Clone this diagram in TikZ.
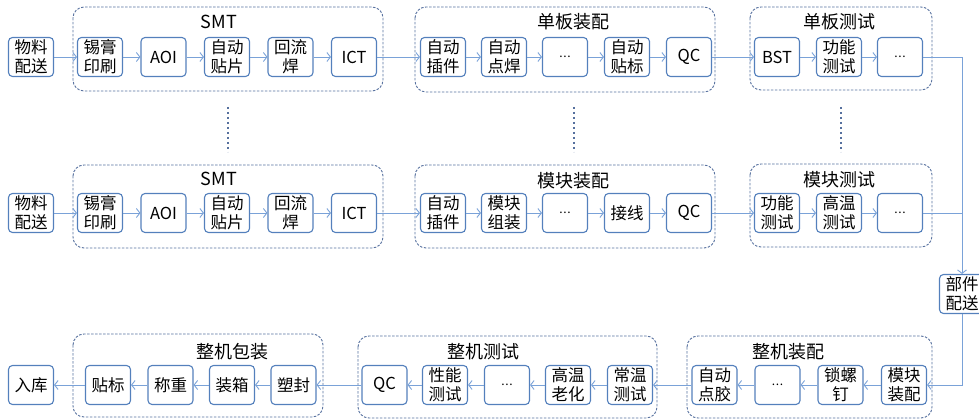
\documentclass[tikz,border=0pt]{standalone}
\usepackage{fontspec}
\setmainfont{Noto Sans CJK SC}
\usetikzlibrary{positioning,arrows.meta}
\definecolor{boxblue}{RGB}{84,128,188}
\definecolor{grpblue}{RGB}{86,112,158}
\definecolor{arrblue}{RGB}{122,162,216}
\newcommand{\omitdots}{{\fontsize{12}{12}\selectfont .\kern0.6pt.\kern0.6pt.}}

\begin{document}
\begin{tikzpicture}[x=1pt,y=-1pt]
  \tikzstyle{box} = [draw=boxblue,line width=1.1pt,rounded corners=4pt,minimum width=45pt,minimum height=39pt,inner sep=0pt,align=center,font=\fontsize{16.5}{19}\selectfont]
  \tikzstyle{grp} = [draw=grpblue,line width=0.9pt,dash pattern=on 2.5pt off 1.5pt,rounded corners=11pt]
  \tikzstyle{title} = [font=\fontsize{18}{19}\selectfont]
  \tikzstyle{flow} = [draw=arrblue,line width=0.9pt,-{Straight Barb[length=3.5pt,width=9pt]}]
  \tikzstyle{dots} = [draw=grpblue,line width=2pt,dash pattern=on 2pt off 3pt]
  \useasboundingbox (0,0) rectangle (979,419);

  % group frames
  \draw[grp] (73,7) rectangle (383,91);
  \draw[grp] (415,7) rectangle (715,92);
  \draw[grp] (750,7) rectangle (932,90);
  \draw[grp] (73,165) rectangle (383,248);
  \draw[grp] (415,165) rectangle (715,248);
  \draw[grp] (750,164) rectangle (932,247);
  \draw[grp] (73,334) rectangle (323,417);
  \draw[grp] (358,336) rectangle (657,418);
  \draw[grp] (687,336) rectangle (932,418);

  \node[title] (tsmt1) at (219,22) {SMT};
  \node[title] (tdbzp) at (573,22) {单板装配};
  \node[title] (tdbcs) at (839,22) {单板测试};
  \node[title] (tsmt2) at (219,179) {SMT};
  \node[title] (tmkzp) at (573,181) {模块装配};
  \node[title] (tmkcs) at (839,180) {模块测试};
  \node[title] (tzjbz) at (232,352) {整机包装};
  \node[title] (tzjcs) at (483,352) {整机测试};
  \node[title] (tzjzp) at (788,352) {整机装配};

  % first line
  \node[box] (wl1) at (31,57) {物料\\配送};
  \foreach \n/\x/\t in {sa1/100/锡膏\\印刷, sb1/163.5/AOI, sc1/227/自动\\贴片, sd1/290.5/回流\\焊, se1/354/ICT,
      da/443/自动\\插件, db/504/自动\\点焊, dc/565/\omitdots, dd/627/自动\\贴标, de/689/QC,
      ta/777/BST, tb/839/功能\\测试, tc/900/\omitdots}
    \node[box] (\n) at (\x,57) {\t};

  % second line
  \node[box] (wl2) at (31,213) {物料\\配送};
  \foreach \n/\x/\t in {sa2/100/锡膏\\印刷, sb2/163.5/AOI, sc2/227/自动\\贴片, sd2/290.5/回流\\焊, se2/354/ICT,
      ma/443/自动\\插件, mb/504/模块\\组装, mc/565/\omitdots, md/627/接线, me/689/QC,
      na/777/功能\\测试, nb/839/高温\\测试, nc/900/\omitdots}
    \node[box] (\n) at (\x,213) {\t};

  \node[box] (bj) at (962,294) {部件\\配送};

  % third line
  \node[box] (rk) at (31,385) {入库};
  \foreach \n/\x/\t in {pa/108/贴标, pb/170.5/称重, pc/232/装箱, pd/293.5/塑封,
      qa/384.5/QC, qb/445/性能\\测试, qc/507/\omitdots, qd/568/高温\\老化, qe/630/常温\\测试,
      ra/714.5/自动\\点胶, rb/777.5/\omitdots, rc/840.5/锁螺\\钉, rd/904/模块\\装配}
    \node[box] (\n) at (\x,385) {\t};

  \foreach \a/\b in {wl1/sa1,sa1/sb1,sb1/sc1,sc1/sd1,sd1/se1,se1/da,da/db,db/dc,dc/dd,dd/de,de/ta,ta/tb,tb/tc,
      wl2/sa2,sa2/sb2,sb2/sc2,sc2/sd2,sd2/se2,se2/ma,ma/mb,mb/mc,mc/md,md/me,me/na,na/nb,nb/nc,
      rd/rc,rc/rb,rb/ra,ra/qe,qe/qd,qd/qc,qc/qb,qb/qa,qa/pd,pd/pc,pc/pb,pb/pa,pa/rk}
    \draw[flow] (\a) -- (\b);

  \draw[flow] (tc) -| (bj);
  \coordinate (hui) at (962,213);
  \draw[draw=arrblue,line width=0.9pt] (nc) -- (hui);
  \draw[flow] (bj) |- (rd);

  % omitted lines
  \coordinate (d1) at (228,107);
  \coordinate (d2) at (574,107);
  \coordinate (d3) at (841,107);
  \foreach \d in {d1,d2,d3}
    \draw[dots] (\d) -- ++(0,45);
\end{tikzpicture}
\end{document}
